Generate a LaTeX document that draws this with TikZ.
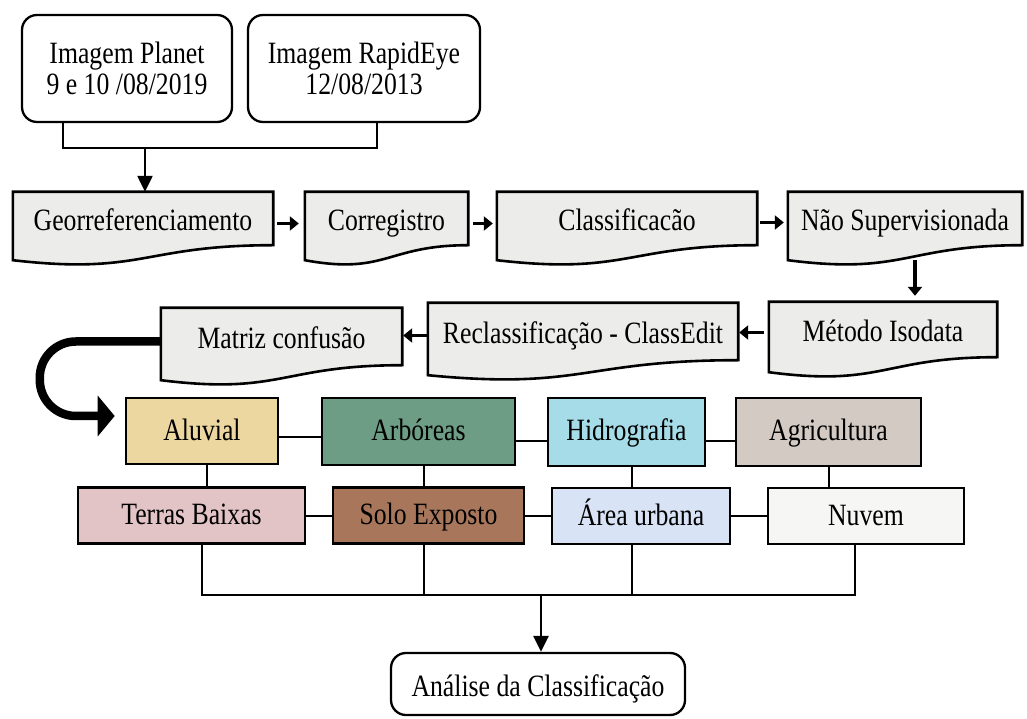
\documentclass[tikz,border=0pt]{standalone}
\usepackage{fontspec}
\setmainfont{Liberation Serif}[FakeStretch=0.83]
\usetikzlibrary{arrows.meta,calc,backgrounds}

\definecolor{docgray}{HTML}{ECECEA}
\definecolor{aluvialc}{HTML}{EBD79F}
\definecolor{arborc}{HTML}{6E9D85}
\definecolor{hidroc}{HTML}{A5DCE7}
\definecolor{agric}{HTML}{D3CAC4}
\definecolor{terrasc}{HTML}{E3C4C6}
\definecolor{soloc}{HTML}{A8775B}
\definecolor{areac}{HTML}{D9E3F6}
\definecolor{nuvemc}{HTML}{F6F6F4}

% document shape drawn under a node
\newcommand\docshape[1]{%
  \path[docbox] (#1.north west) -- (#1.north east) -- (#1.south east)
    .. controls ($(#1.south east)!0.5!(#1.south west)$)
    and ($(#1.south east)!0.5!(#1.south west)+(0,-30)$)
    .. ($(#1.south west)+(0,-15)$) -- cycle;}

\begin{document}
\begin{tikzpicture}[
    x=1pt, y=1pt,
    every node/.style={font=\fontsize{31}{31}\selectfont, inner sep=0pt},
    imgbox/.style={draw, line width=2.3pt, rounded corners=15pt, align=center},
    docstep/.style={text height=31pt, text depth=7pt},
    docbox/.style={draw, fill=docgray, line width=2.6pt},
    classbox/.style={draw, line width=2.6pt, text height=27pt, text depth=9pt},
    link/.style={line width=2pt},
    arr/.style={line width=2.4pt, -{Triangle[length=16pt,width=15pt]}},
    smallarr/.style={line width=3.8pt, -{Triangle[length=9pt,width=14pt]}},
    bigarr/.style={line width=8.5pt, rounded corners=36pt,
      -{Triangle[length=17pt,width=40pt]}},
  ]
    \useasboundingbox (0,0) rectangle (1027,718);

    % Input images
    \node[imgbox, minimum width=210pt, minimum height=107pt] (planet)
      at (127,649.5) {Imagem Planet\\9 e 10 /08/2019};
    \node[imgbox, minimum width=232pt, minimum height=107pt] (rapideye)
      at (364,649.5) {Imagem RapidEye\\12/08/2013};

    % Processing steps (document shapes)
    \node[docstep, minimum width=260pt, minimum height=53pt] (georef) at (143,499.5) {Georreferenciamento};
    \node[docstep, minimum width=163pt, minimum height=53pt] (correg) at (386.5,499.5) {Corregistro};
    \node[docstep, minimum width=260pt, minimum height=53pt] (classif) at (627,499.5) {Classificacão};
    \node[docstep, minimum width=234pt, minimum height=53pt] (nao) at (905,499.5) {Não Supervisionada};
    \node[docstep, minimum width=228pt, minimum height=55pt] (metodo) at (883,388.5) {Método Isodata};
    \node[docstep, minimum width=310pt, minimum height=57pt] (reclass) at (583,386.5) {Reclassificação - ClassEdit};
    \node[docstep, minimum width=241pt, minimum height=57pt] (matriz) at (281.5,381.5) {Matriz confusão};
    \begin{scope}[on background layer]
      \foreach \n in {georef,correg,classif,nao,metodo,reclass,matriz}
        \docshape{\n};
    \end{scope}

    % Classes
    \node[classbox, fill=aluvialc, minimum width=152pt, minimum height=66pt] (aluvial) at (202,287) {Aluvial};
    \node[classbox, fill=arborc, minimum width=193pt, minimum height=67pt] (arboreas) at (418.5,286.5) {Arbóreas};
    \node[classbox, fill=hidroc, minimum width=157pt, minimum height=68pt] (hidro) at (626.5,286) {Hidrografia};
    \node[classbox, fill=agric, minimum width=185pt, minimum height=68pt] (agri) at (828.5,286) {Agricultura};
    \node[classbox, fill=terrasc, minimum width=227pt, minimum height=56pt] (terras) at (191.5,202.5) {Terras Baixas};
    \node[classbox, fill=soloc, minimum width=191pt, minimum height=56pt] (solo) at (428.5,202.5) {Solo Exposto};
    \node[classbox, fill=areac, minimum width=178pt, minimum height=56pt] (area) at (641,202) {Área urbana};
    \node[classbox, fill=nuvemc, minimum width=196pt, minimum height=56pt] (nuvem) at (866,202) {Nuvem};

    % Result
    \node[imgbox, docstep, minimum width=294pt, minimum height=62pt] (analise) at (538,34) {Análise da Classificação};

    % Connectors on top
    \coordinate (join) at (145,570);
    \draw[link] ([xshift=-64pt]planet.south) |- (join) -| ([xshift=13pt]rapideye.south);
    \draw[arr] (join) -- (join |- georef.north);

    % Step arrows
    \draw[smallarr, shorten <=4pt, shorten >=6pt] ([yshift=-5pt]georef.east) -- ([yshift=-5pt]correg.west);
    \draw[smallarr, shorten <=5pt, shorten >=4pt] ([yshift=-5pt]correg.east) -- ([yshift=-5pt]classif.west);
    \draw[smallarr, shorten <=3pt, shorten >=4pt] ([yshift=-4pt]classif.east) -- ([yshift=-4pt]nao.west);
    \draw[smallarr, shorten <=15pt, shorten >=6pt] ([xshift=10pt]nao.south) -- ([xshift=32pt]metodo.north);
    \draw[smallarr, shorten <=5pt, shorten >=1pt] ([yshift=-3pt]metodo.west) -- ([yshift=-1pt]reclass.east);
    \draw[smallarr, shorten <=1pt, shorten >=1pt] ([yshift=-4pt]reclass.west) -- ([yshift=1pt]matriz.east);
    \draw[bigarr, shorten >=10pt] ([yshift=-5pt]matriz.west) -- ++(-121,0) |- ([yshift=15pt]aluvial.west);

    % Links between classes
    \draw[link] ([yshift=-6pt]aluvial.east) -- ([yshift=-6pt]aluvial.east -| arboreas.west);
    \draw[link] ([yshift=-9pt]arboreas.east) -- ([yshift=-9pt]arboreas.east -| hidro.west);
    \draw[link] ([yshift=-9pt]hidro.east) -- ([yshift=-9pt]hidro.east -| agri.west);
    \draw[link] (terras.east) -- (terras.east -| solo.west);
    \draw[link] (solo.east) -- (solo.east -| area.west);
    \draw[link] (area.east) -- (area.east -| nuvem.west);
    \draw[link] ([xshift=5pt]aluvial.south) -- ([xshift=5pt]aluvial.south |- terras.north);
    \draw[link] ([xshift=5pt]arboreas.south) -- ([xshift=5pt]arboreas.south |- solo.north);
    \draw[link] ([xshift=5pt]hidro.south) -- ([xshift=5pt]hidro.south |- area.north);
    \draw[link] (agri.south) -- (agri.south |- nuvem.north);

    % Bus to the result
    \coordinate (bus) at (541,123);
    \draw[link] ([xshift=10pt]terras.south) |- (bus);
    \draw[link] ([xshift=-5pt]solo.south) |- (bus);
    \draw[link] ([xshift=-9pt]area.south) |- (bus);
    \draw[link] ([xshift=-11pt]nuvem.south) |- (bus);
    \draw[arr] (bus) -- (bus |- analise.north);
\end{tikzpicture}
\end{document}
